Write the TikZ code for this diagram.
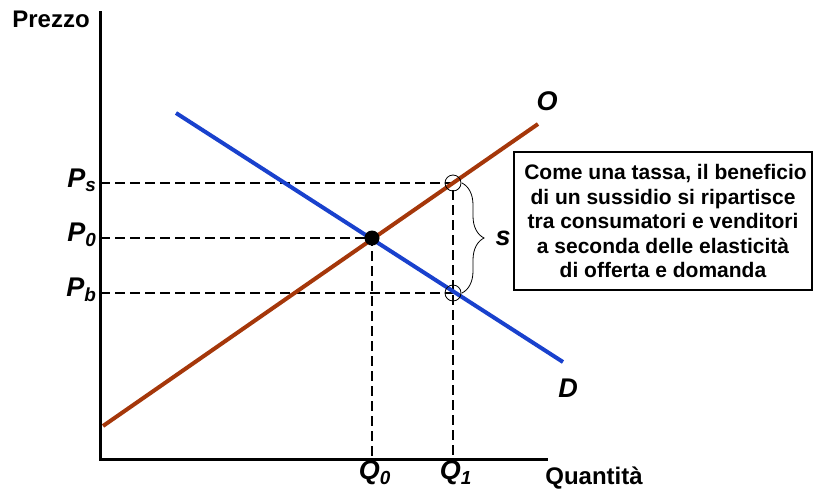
\documentclass[tikz,border=0pt]{standalone}
\usepackage{fontspec}
\setmainfont{Liberation Sans}
\usetikzlibrary{decorations.pathreplacing}

\definecolor{offerta}{RGB}{165,55,10}
\definecolor{domanda}{RGB}{25,65,205}

\tikzset{
  guide/.style={line width=2.4pt, dash pattern=on 10pt off 5pt},
  curve/.style={line width=4pt},
  axislbl/.style={font=\fontsize{24}{26}\selectfont\bfseries},
  varlbl/.style={font=\fontsize{27}{28}\selectfont\bfseries\itshape},
}

\begin{document}
\begin{tikzpicture}[x=1pt,y=-1pt]

  \useasboundingbox (0,0) rectangle (815,491);

  % points of the diagram
  \coordinate (orig) at (100,459);
  \coordinate (ytop) at (100,11);
  \coordinate (xend) at (548,459);
  \coordinate (E) at (372,238);
  \coordinate (S) at (453,183);
  \coordinate (B) at (453,293);
  \coordinate (o1) at (103,426);
  \coordinate (o2) at (538,124);
  \coordinate (d1) at (176,113);
  \coordinate (d2) at (563,362);

  % dashed guides
  \draw[guide] (orig |- S) -- (S) -- (orig -| S);
  \draw[guide] (orig |- E) -- (E) -- (orig -| E);
  \draw[guide] (orig |- B) -- (B);

  % supply and demand
  \draw[curve,offerta] (o1) -- (o2);
  \draw[curve,domanda] (d1) -- (d2);

  %draw axes
  \draw[line width=3pt] (ytop) -- (orig) -- (xend);
  \node[axislbl] (prezzo) at (51,19) {Prezzo};
  \node[axislbl] (quant) at (594,478) {Quantità};

  % curve labels
  \node[varlbl] (lblO) at (547,101) {O};
  \node[varlbl] (lblD) at (568,388) {D};

  % price and quantity labels
  \foreach \p/\t in {S/s, E/0, B/b}
    \node[varlbl, anchor=east] (P\p) at ([yshift=3pt]orig |- \p) {P\textsubscript{\t}\hspace{4pt}};
  \node[varlbl] (Q0) at (375,473) {Q\textsubscript{0}};
  \node[varlbl] (Q1) at (456,473) {Q\textsubscript{1}};

  % equilibrium and subsidy wedge
  \fill (E) circle (7.5);
  \draw[line width=0.8pt] (S) circle (8) (B) circle (8);
  \draw[line width=0.8pt, decorate, decoration={brace, amplitude=22pt}]
    ([xshift=9pt]S) -- ([xshift=9pt]B) node[midway, right=30pt, varlbl] (sub) {s};

  % note
  \node[draw, line width=1.2pt, minimum width=298pt, minimum height=138pt,
        align=center, font=\fontsize{21}{24.5}\selectfont\bfseries] (note) at (663,221)
    {\hspace{5pt}Come una tassa, il beneficio\\di un sussidio si ripartisce\\tra consumatori e venditori\\a seconda delle elasticità\\di offerta e domanda};

\end{tikzpicture}
\end{document}
